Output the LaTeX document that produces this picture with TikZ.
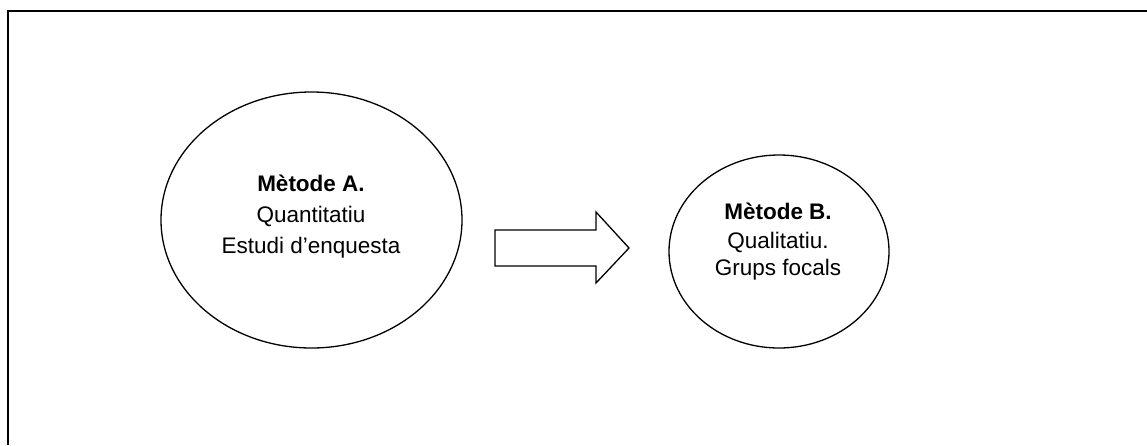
\documentclass[tikz,border=0pt]{standalone}
\usepackage{fontspec}
\setmainfont{Liberation Sans}
\usetikzlibrary{shapes.geometric}
\begin{document}
\begin{tikzpicture}[x=1pt,y=-1pt,
  oval/.style={draw, ellipse, line width=1.3pt, inner sep=0pt},
  txt/.style={anchor=base, inner sep=0pt, font=\fontsize{22.5}{27}\selectfont},
  frameline/.style={line width=2pt},
  blockarrow/.style={draw, line width=1.3pt, line join=miter}]
\useasboundingbox (0,0) rectangle (1147,445);
% frame (top and left sides only)
\coordinate (fl) at (8,445);
\coordinate (ftl) at (8,11);
\coordinate (ftr) at (1147,11);
\draw[frameline] (fl) -- (ftl) -- (ftr);
% ellipse A
\node[oval, minimum width=301pt, minimum height=256pt] (A) at (311.5,220) {};
\node[txt, font=\fontsize{22.5}{27}\selectfont\bfseries] (a1) at (311,191.5) {Mètode A.};
\node[txt] (a2) at (311,222.5) {Quantitatiu};
\node[txt] (a3) at (311,253) {Estudi d’enquesta};
% ellipse B
\node[oval, minimum width=220pt, minimum height=193pt] (B) at (779,251.5) {};
\node[txt, font=\fontsize{22.5}{27}\selectfont\bfseries] (b1) at (778,219.5) {Mètode B.};
\node[txt] (b2) at (778,248) {Qualitatiu.};
\node[txt] (b3) at (778,275) {Grups focals};
% block arrow
\draw[blockarrow] (495,230) -- (596,230) -- (596,212) -- (629,248) -- (596,283) -- (596,266) -- (495,266) -- cycle;
\end{tikzpicture}
\end{document}
